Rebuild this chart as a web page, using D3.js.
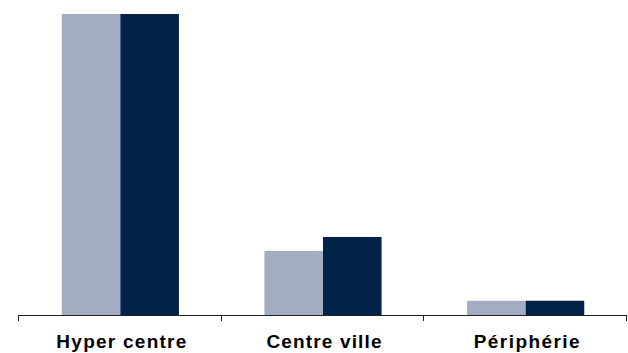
<!DOCTYPE html>
<html>
<head>
<meta charset="utf-8">
<script src="https://cdn.jsdelivr.net/npm/d3@7"></script>
<style>
  html, body { margin: 0; padding: 0; background: #ffffff; }
  svg { display: block; }
</style>
</head>
<body>
<div id="chart"></div>
<script>
// Zones and the two compared series
const categories = ["Hyper centre", "Centre ville", "Périphérie"];
const seriesNames = ["Série A", "Série B"];
const seriesA = [76, 16.2, 3.6];
const seriesB = [76, 19.7, 3.6];
const labelWidths = [130, 115, 106];

const colors = ["#a2adc3", "#002347"];

const width = 628, height = 353;
const x0Left = 18, x0Right = 626, baseY = 315, topY = 14;

const svg = d3.select("#chart").append("svg")
  .attr("width", width).attr("height", height);

const x0 = d3.scaleBand().domain(categories).range([x0Left, x0Right]).padding(0);
const x1 = d3.scaleBand().domain(seriesNames).range([0, x0.bandwidth()])
  .paddingInner(0).paddingOuter(0.73);
const y = d3.scaleLinear().domain([0, 76]).range([baseY, topY]);

const rows = categories.map((c, i) => ({ cat: c, vals: [seriesA[i], seriesB[i]] }));

const groups = svg.append("g").selectAll("g").data(rows).join("g")
  .attr("transform", d => `translate(${x0(d.cat) + 1},0)`);

groups.selectAll("rect")
  .data(d => d.vals.map((v, j) => ({ key: seriesNames[j], v, j })))
  .join("rect")
  .attr("x", d => x1(d.key))
  .attr("width", x1.bandwidth())
  .attr("y", d => y(d.v))
  .attr("height", d => baseY - y(d.v))
  .attr("fill", d => colors[d.j]);

// Category axis: baseline with ticks at band boundaries
const axis = svg.append("g");
axis.append("line")
  .attr("x1", x0Left).attr("x2", x0Right)
  .attr("y1", baseY + 0.5).attr("y2", baseY + 0.5)
  .attr("stroke", "#222").attr("stroke-width", 1.2);
const boundaries = categories.map(c => x0(c)).concat([x0Right]);
axis.selectAll("line.tick").data(boundaries).join("line")
  .attr("class", "tick")
  .attr("x1", d => Math.round(d) + 0.5).attr("x2", d => Math.round(d) + 0.5)
  .attr("y1", baseY).attr("y2", baseY + 6)
  .attr("stroke", "#222").attr("stroke-width", 1);

axis.selectAll("text").data(categories).join("text")
  .attr("x", d => x0(d) + x0.bandwidth() / 2 + 2)
  .attr("y", 348)
  .attr("text-anchor", "middle")
  .attr("textLength", (d, i) => labelWidths[i])
  .attr("lengthAdjust", "spacing")
  .style("font-family", "'Liberation Sans Narrow', 'Arial Narrow', 'Liberation Sans', Arial, sans-serif")
  .style("font-weight", "bold")
  .style("font-size", "19px")
  .style("fill", "#000")
  .text(d => d);
</script>
</body>
</html>
